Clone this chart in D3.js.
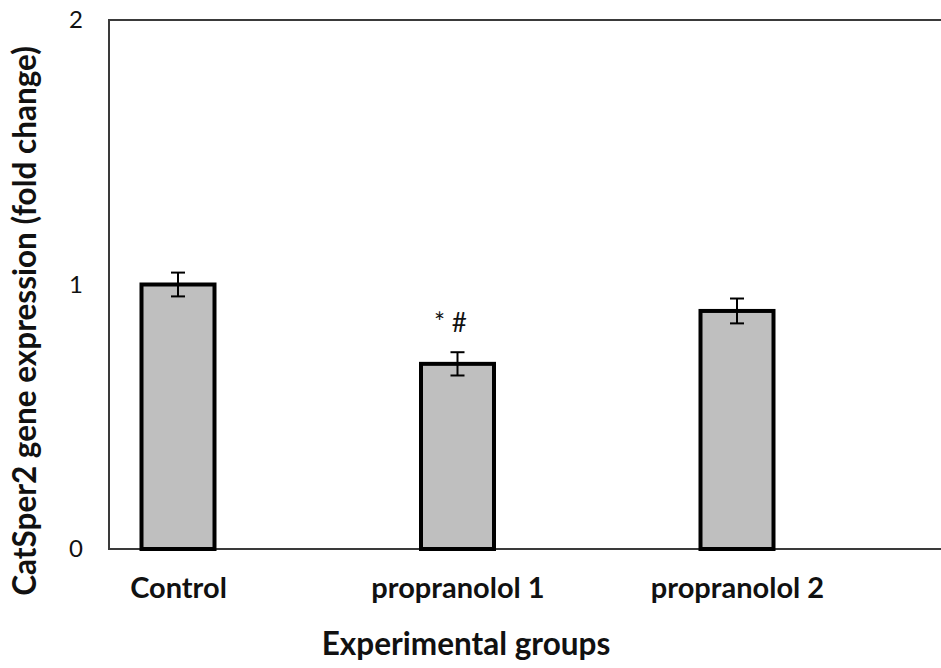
<!DOCTYPE html>
<html>
<head>
<meta charset="utf-8">
<script src="https://cdn.jsdelivr.net/npm/d3@7"></script>
<style>
  body { margin: 0; background: #fff; }
  svg { display: block; }
</style>
</head>
<body>
<div id="chart"></div>
<script>
// data
var groups = ["Control", "propranolol 1", "propranolol 2"];
var foldChange = [1.0, 0.70, 0.90];
var errors = [0.045, 0.044, 0.047];
var marks = ["", "* #", ""];
var yTicks = [0, 1, 2];

var WIDTH = 941, HEIGHT = 668;
var MARGIN = { LEFT: 109, RIGHT: 0, TOP: 20, BOTTOM: 119 };
var BAR_W = 73;
var FONT = "Lato, 'Open Sans', sans-serif";

var svg = d3.select("#chart").append("svg")
  .attr("width", WIDTH)
  .attr("height", HEIGHT);

var x = d3.scalePoint().domain(groups).range([178, 737]);
var y = d3.scaleLinear().domain([0, 2]).range([HEIGHT - MARGIN.BOTTOM, MARGIN.TOP]);

// frame (top, left, bottom) - right side runs off the picture
svg.append("path")
  .attr("d", "M" + (WIDTH + 5) + "," + y(2) + "H" + MARGIN.LEFT + "V" + y(0) + "H" + (WIDTH + 5))
  .attr("fill", "none")
  .attr("stroke", "#3a3a3a")
  .attr("stroke-width", 2);

// y tick labels
var yAxis = d3.axisLeft(y).tickValues(yTicks).tickSize(0).tickPadding(0).tickFormat(d3.format("d"));
var ya = svg.append("g")
  .attr("transform", "translate(83,0)")
  .call(yAxis);
ya.select(".domain").remove();
ya.selectAll("text")
  .attr("font-family", FONT)
  .attr("font-size", 24)
  .attr("fill", "#111")
  .attr("text-anchor", "end");

var data = groups.map(function (g, i) {
  return { group: g, value: foldChange[i], err: errors[i], mark: marks[i] };
});

// bars
svg.selectAll("rect.bar").data(data).enter().append("rect")
  .attr("class", "bar")
  .attr("x", d => x(d.group) - BAR_W / 2)
  .attr("y", d => y(d.value))
  .attr("width", BAR_W)
  .attr("height", d => y(0) - y(d.value))
  .attr("fill", "#bfbfbf")
  .attr("stroke", "#000")
  .attr("stroke-width", 4);

// error bars
var eb = svg.selectAll("g.err").data(data).enter().append("g")
  .attr("class", "err")
  .attr("stroke", "#000")
  .attr("stroke-width", 2);
eb.append("line")
  .attr("x1", d => x(d.group)).attr("x2", d => x(d.group))
  .attr("y1", d => y(d.value + d.err)).attr("y2", d => y(d.value - d.err));
eb.append("line")
  .attr("x1", d => x(d.group) - 7).attr("x2", d => x(d.group) + 7)
  .attr("y1", d => y(d.value + d.err)).attr("y2", d => y(d.value + d.err));
eb.append("line")
  .attr("x1", d => x(d.group) - 7).attr("x2", d => x(d.group) + 7)
  .attr("y1", d => y(d.value - d.err)).attr("y2", d => y(d.value - d.err));

// significance marks
svg.selectAll("text.mark").data(data.filter(d => d.mark)).enter().append("text")
  .attr("class", "mark")
  .attr("x", d => x(d.group))
  .attr("dx", -7)
  .attr("y", d => y(d.value + d.err) - 20)
  .attr("text-anchor", "middle")
  .attr("font-family", FONT)
  .attr("font-size", 26)
  .attr("fill", "#111")
  .text(d => d.mark);

// category labels
var xAxis = d3.axisBottom(x).tickSize(0).tickPadding(0);
var xa = svg.append("g")
  .attr("transform", "translate(0," + 598 + ")")
  .call(xAxis);
xa.select(".domain").remove();
xa.selectAll("text")
  .attr("dy", 0)
  .attr("font-family", FONT)
  .attr("font-weight", "bold")
  .attr("font-size", 29)
  .attr("fill", "#111");

// axis titles
svg.append("text")
  .attr("x", 466)
  .attr("y", 655)
  .attr("text-anchor", "middle")
  .attr("font-family", FONT)
  .attr("font-weight", "bold")
  .attr("font-size", 31.5)
  .attr("fill", "#111")
  .text("Experimental groups");

svg.append("text")
  .attr("transform", "translate(36,321) rotate(-90)")
  .attr("text-anchor", "middle")
  .attr("font-family", FONT)
  .attr("font-weight", "bold")
  .attr("font-size", 31.5)
  .attr("fill", "#111")
  .text("CatSper2 gene expression (fold change)");
</script>
</body>
</html>
